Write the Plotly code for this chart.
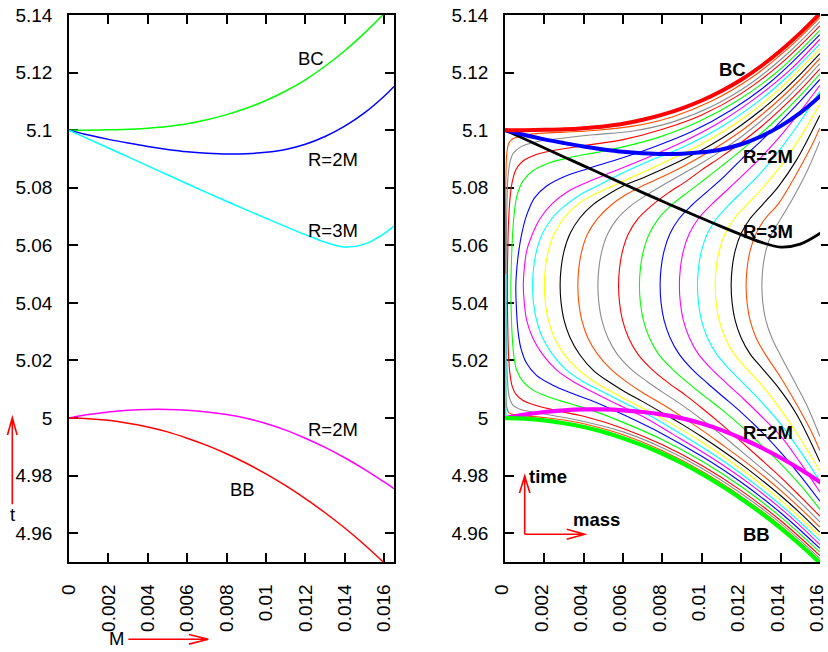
import plotly.graph_objects as go

FIG_W, FIG_H = 828, 652

# ---------------------------------------------------------------- data
# mass coordinate grid for the boundary curves
M_GRID = [0.0, 0.001, 0.002, 0.003, 0.004, 0.005, 0.006, 0.007, 0.008,
          0.009, 0.010, 0.011, 0.012, 0.013, 0.014, 0.015, 0.016, 0.0165]
# Big Crunch
BC_T = [5.1, 5.1000, 5.1001, 5.1003, 5.1007, 5.1013, 5.1022, 5.1036, 5.1054,
        5.1076, 5.1103, 5.1136, 5.1175, 5.1222, 5.1276, 5.1337, 5.1405, 5.1442]
# R = 2M, upper branch
R2M_UP_T = [5.1, 5.0983, 5.0968, 5.0955, 5.0943, 5.0933, 5.0925, 5.0920, 5.0917,
            5.0918, 5.0923, 5.0933, 5.0951, 5.0978, 5.1014, 5.1060, 5.1118, 5.1152]
# R = 3M
R3M_T = [5.1, 5.0969, 5.0938, 5.0907, 5.0876, 5.0845, 5.0814, 5.0783, 5.0753,
         5.0723, 5.0694, 5.0665, 5.0637, 5.0611, 5.0594, 5.0604, 5.0641, 5.0667]
# R = 2M, lower branch
R2M_LO_T = [5.0, 5.0012, 5.0021, 5.0027, 5.0030, 5.0030, 5.0027, 5.0021, 5.0012,
            4.9999, 4.9981, 4.9958, 4.9930, 4.9898, 4.9862, 4.9822, 4.9778, 4.9755]
# Big Bang
BB_T = [5.0, 4.9998, 4.9992, 4.9982, 4.9969, 4.9952, 4.9930, 4.9905, 4.9876,
        4.9843, 4.9806, 4.9765, 4.9720, 4.9671, 4.9618, 4.9560, 4.9497, 4.9464]

# family of constant-R curves, each running lower arm -> turning point -> upper arm
R01_M = [0.016, 0.014, 0.012, 0.010, 0.008, 0.006, 0.004, 0.003, 0.002, 0.001,
         0.0005, 0.0002, 0.0001, 0.00005, 0.00003, 0.00002, 0.00003, 0.00005, 0.0001, 0.0002,
         0.0004, 0.0008, 0.0016, 0.003, 0.0045, 0.0065, 0.0085, 0.0105, 0.0125, 0.0145, 0.016]
R01_T = [4.9504, 4.9626, 4.9728, 4.9815, 4.9886, 4.9942, 4.9980, 4.9993, 5.0002, 5.0007,
         5.0011, 5.0018, 5.0035, 5.0080, 5.0200, 5.0460, 5.0700, 5.0850, 5.0925, 5.0955,
         5.0970, 5.0980, 5.0988, 5.0993, 5.0999, 5.1014, 5.1046, 5.1101, 5.1181, 5.1291, 5.1391]
R02_M = [0.016, 0.014, 0.012, 0.010, 0.008, 0.006, 0.004, 0.0025, 0.0015, 0.0008,
         0.0004, 0.00024, 0.00015, 0.0001, 0.00007, 0.00006, 0.00007, 0.0001, 0.00015, 0.00024,
         0.0004, 0.0008, 0.0015, 0.0028, 0.0045, 0.0065, 0.0085, 0.0105, 0.0125, 0.0145, 0.016]
R02_T = [4.9512, 4.9635, 4.9738, 4.9826, 4.9897, 4.9952, 4.9988, 5.0008, 5.0020, 5.0030,
         5.0045, 5.0068, 5.0105, 5.0180, 5.0300, 5.0460, 5.0620, 5.0750, 5.0835, 5.0885,
         5.0918, 5.0942, 5.0958, 5.0971, 5.0984, 5.0997, 5.1028, 5.1082, 5.1163, 5.1275, 5.1377]
R03_M = [0.016, 0.014, 0.012, 0.010, 0.008, 0.006, 0.004, 0.0025, 0.0015, 0.0009,
         0.00055, 0.00036, 0.00025, 0.00018, 0.00014, 0.00012, 0.00014, 0.00018, 0.00025, 0.00036,
         0.00055, 0.0009, 0.0015, 0.0025, 0.004, 0.006, 0.008, 0.010, 0.012, 0.014, 0.016]
R03_T = [4.9522, 4.9644, 4.9748, 4.9835, 4.9907, 4.9964, 5.0006, 5.0028, 5.0045, 5.0062,
         5.0083, 5.0112, 5.0155, 5.0220, 5.0320, 5.0460, 5.0580, 5.0680, 5.0760, 5.0818,
         5.0862, 5.0892, 5.0913, 5.0930, 5.0946, 5.0967, 5.1003, 5.1053, 5.1127, 5.1230, 5.1362]
R04_M = [0.016, 0.014, 0.012, 0.010, 0.008, 0.006, 0.0045, 0.0032, 0.0022, 0.0014,
         0.0009, 0.0006, 0.00046, 0.00037, 0.00032, 0.0003, 0.00033, 0.00038, 0.00046, 0.0006,
         0.0009, 0.0014, 0.0022, 0.0033, 0.0046, 0.006, 0.0078, 0.0098, 0.0118, 0.0138, 0.016]
R04_T = [4.9534, 4.9657, 4.9762, 4.9851, 4.9925, 4.9985, 5.0025, 5.0052, 5.0074, 5.0098,
         5.0128, 5.0165, 5.0210, 5.0280, 5.0360, 5.0460, 5.0550, 5.0630, 5.0705, 5.0770,
         5.0822, 5.0858, 5.0885, 5.0905, 5.0922, 5.0942, 5.0975, 5.1028, 5.1102, 5.1201, 5.1347]
R05_M = [0.016, 0.014, 0.012, 0.010, 0.008, 0.006, 0.0046, 0.0034, 0.0024, 0.0016,
         0.0011, 0.0008, 0.00065, 0.00058, 0.00055, 0.0006, 0.0007, 0.00085, 0.0011, 0.0015,
         0.0021, 0.003, 0.0042, 0.0057, 0.0075, 0.0095, 0.0115, 0.0135, 0.016]
R05_T = [4.9547, 4.9671, 4.9777, 4.9867, 4.9945, 5.0012, 5.0055, 5.0086, 5.0115, 5.0148,
         5.0190, 5.0245, 5.0310, 5.0380, 5.0460, 5.0520, 5.0580, 5.0640, 5.0705, 5.0765,
         5.0805, 5.0838, 5.0866, 5.0898, 5.0940, 5.0995, 5.1070, 5.1168, 5.1332]
R06_M = [0.016, 0.0145, 0.0125, 0.0105, 0.0085, 0.007, 0.0057, 0.0045, 0.0035, 0.0026,
         0.0019, 0.0014, 0.0011, 0.00098, 0.00093, 0.00098, 0.0011, 0.0014, 0.0018, 0.0024,
         0.0032, 0.0042, 0.0055, 0.007, 0.009, 0.011, 0.013, 0.0145, 0.016]
R06_T = [4.9560, 4.9657, 4.9768, 4.9862, 4.9945, 5.0005, 5.0048, 5.0089, 5.0125, 5.0168,
         5.0222, 5.0280, 5.0340, 5.0400, 5.0460, 5.0520, 5.0580, 5.0640, 5.0695, 5.0745,
         5.0787, 5.0820, 5.0856, 5.0898, 5.0958, 5.1031, 5.1125, 5.1210, 5.1316]
R07_M = [0.016, 0.0145, 0.013, 0.011, 0.009, 0.0075, 0.006, 0.005, 0.004, 0.0031,
         0.0024, 0.0019, 0.0016, 0.00145, 0.0014, 0.00145, 0.0016, 0.0019, 0.0024, 0.003,
         0.0038, 0.0048, 0.006, 0.0075, 0.009, 0.011, 0.013, 0.0145, 0.016]
R07_T = [4.9574, 4.9669, 4.9754, 4.9855, 4.9942, 5.0003, 5.0055, 5.0090, 5.0125, 5.0168,
         5.0222, 5.0280, 5.0340, 5.0400, 5.0460, 5.0520, 5.0580, 5.0640, 5.0695, 5.0735,
         5.0775, 5.0810, 5.0852, 5.0898, 5.0940, 5.1012, 5.1107, 5.1196, 5.1300]
R08_M = [0.016, 0.014, 0.012, 0.010, 0.008, 0.0065, 0.0055, 0.0045, 0.0037, 0.003,
         0.0025, 0.0022, 0.00205, 0.002, 0.00205, 0.0022, 0.0025, 0.003, 0.0037, 0.0045,
         0.0055, 0.0065, 0.008, 0.010, 0.012, 0.014, 0.016]
R08_T = [4.9589, 4.9715, 4.9823, 4.9917, 4.9998, 5.0052, 5.0088, 5.0128, 5.0170, 5.0222,
         5.0280, 5.0340, 5.0400, 5.0460, 5.0520, 5.0580, 5.0640, 5.0695, 5.0743, 5.0776,
         5.0807, 5.0838, 5.0885, 5.0952, 5.1036, 5.1146, 5.1283]
R09_M = [0.016, 0.015, 0.014, 0.013, 0.012, 0.011, 0.010, 0.009, 0.008, 0.007,
         0.006, 0.0053, 0.0045, 0.0038, 0.0033, 0.003, 0.00285, 0.0028, 0.00285, 0.003,
         0.0033, 0.0038, 0.0045, 0.0052, 0.006, 0.007, 0.008, 0.009, 0.010, 0.011,
         0.012, 0.013, 0.014, 0.015, 0.016]
R09_T = [4.9604, 4.9670, 4.9731, 4.9787, 4.9840, 4.9889, 4.9935, 4.9978, 5.0018, 5.0057,
         5.0095, 5.0125, 5.0165, 5.0220, 5.0280, 5.0340, 5.0400, 5.0460, 5.0520, 5.0580,
         5.0640, 5.0695, 5.0743, 5.0775, 5.0806, 5.0834, 5.0864, 5.0896, 5.0931, 5.0971,
         5.1017, 5.1069, 5.1128, 5.1194, 5.1266]
R10_M = [0.016, 0.015, 0.014, 0.013, 0.012, 0.011, 0.010, 0.009, 0.008, 0.007,
         0.0062, 0.0054, 0.0047, 0.0042, 0.0039, 0.00375, 0.0037, 0.00375, 0.0039, 0.0042,
         0.0047, 0.0054, 0.0062, 0.007, 0.008, 0.009, 0.010, 0.011, 0.012, 0.013,
         0.014, 0.015, 0.016]
R10_T = [4.9621, 4.9687, 4.9749, 4.9806, 4.9859, 4.9909, 4.9958, 5.0004, 5.0048, 5.0088,
         5.0125, 5.0168, 5.0222, 5.0280, 5.0340, 5.0400, 5.0460, 5.0520, 5.0580, 5.0640,
         5.0693, 5.0740, 5.0778, 5.0807, 5.0838, 5.0872, 5.0910, 5.0951, 5.0997, 5.1051,
         5.1110, 5.1176, 5.1249]
R11_M = [0.016, 0.015, 0.014, 0.013, 0.012, 0.011, 0.010, 0.009, 0.008, 0.0072,
         0.0064, 0.0057, 0.00522, 0.00492, 0.00477, 0.00472, 0.00477, 0.00492, 0.00522, 0.0057,
         0.0064, 0.0072, 0.008, 0.009, 0.010, 0.011, 0.012, 0.013, 0.014, 0.015, 0.016]
R11_T = [4.9639, 4.9707, 4.9770, 4.9828, 4.9885, 4.9942, 4.9995, 5.0045, 5.0090, 5.0128,
         5.0170, 5.0222, 5.0280, 5.0340, 5.0400, 5.0460, 5.0520, 5.0580, 5.0640, 5.0692,
         5.0738, 5.0775, 5.0808, 5.0847, 5.0886, 5.0929, 5.0977, 5.1031, 5.1091, 5.1158, 5.1231]
R12_M = [0.016, 0.015, 0.014, 0.013, 0.012, 0.011, 0.010, 0.0092, 0.0083, 0.00745,
         0.00675, 0.00627, 0.00597, 0.00582, 0.00577, 0.00582, 0.00597, 0.00627, 0.00675, 0.00745,
         0.0083, 0.0092, 0.010, 0.011, 0.012, 0.013, 0.014, 0.015, 0.016]
R12_T = [4.9659, 4.9728, 4.9795, 4.9857, 4.9918, 4.9978, 5.0035, 5.0078, 5.0122, 5.0170,
         5.0222, 5.0280, 5.0340, 5.0400, 5.0460, 5.0520, 5.0580, 5.0640, 5.0692, 5.0738,
         5.0782, 5.0822, 5.0862, 5.0908, 5.0957, 5.1011, 5.1072, 5.1139, 5.1213]
R13_M = [0.016, 0.015, 0.014, 0.013, 0.012, 0.011, 0.0101, 0.0093, 0.0085, 0.0078,
         0.00733, 0.00703, 0.00688, 0.00683, 0.00688, 0.00703, 0.00733, 0.0078, 0.0085, 0.0093,
         0.0102, 0.011, 0.012, 0.013, 0.014, 0.015, 0.016]
R13_T = [4.9683, 4.9768, 4.9842, 4.9908, 4.9972, 5.0030, 5.0078, 5.0122, 5.0170, 5.0222,
         5.0280, 5.0340, 5.0400, 5.0460, 5.0520, 5.0580, 5.0640, 5.0693, 5.0742, 5.0785,
         5.0832, 5.0875, 5.0930, 5.0988, 5.1051, 5.1120, 5.1195]
R14_M = [0.016, 0.015, 0.014, 0.013, 0.012, 0.0111, 0.0103, 0.0095, 0.00885, 0.00838,
         0.00808, 0.00793, 0.00788, 0.00793, 0.00808, 0.00838, 0.00885, 0.0095, 0.0103, 0.0112,
         0.012, 0.013, 0.014, 0.015, 0.016]
R14_T = [4.9711, 4.9800, 4.9882, 4.9955, 5.0020, 5.0073, 5.0120, 5.0170, 5.0222, 5.0280,
         5.0340, 5.0400, 5.0460, 5.0520, 5.0580, 5.0640, 5.0693, 5.0740, 5.0788, 5.0843,
         5.0898, 5.0962, 5.1030, 5.1101, 5.1176]
R15_M = [0.016, 0.015, 0.014, 0.013, 0.0121, 0.0113, 0.0105, 0.00983, 0.00936, 0.00906,
         0.00891, 0.00886, 0.00891, 0.00906, 0.00936, 0.00983, 0.0105, 0.0113, 0.0121, 0.013,
         0.014, 0.015, 0.016]
R15_T = [4.9743, 4.9845, 4.9938, 5.0008, 5.0068, 5.0118, 5.0170, 5.0222, 5.0280, 5.0340,
         5.0400, 5.0460, 5.0520, 5.0580, 5.0640, 5.0693, 5.0742, 5.0793, 5.0845, 5.0905,
         5.0980, 5.1065, 5.1156]
R16_M = [0.016, 0.015, 0.014, 0.013, 0.0122, 0.0114, 0.01075, 0.01028, 0.00998, 0.00983,
         0.00978, 0.00983, 0.00998, 0.01028, 0.01075, 0.0114, 0.0122, 0.013, 0.014, 0.015, 0.016]
R16_T = [4.9780, 4.9885, 4.9980, 5.0058, 5.0115, 5.0170, 5.0222, 5.0280, 5.0340, 5.0400,
         5.0460, 5.0520, 5.0580, 5.0640, 5.0693, 5.0742, 5.0796, 5.0852, 5.0935, 5.1030, 5.1135]
R17_M = [0.016, 0.015, 0.014, 0.0131, 0.0123, 0.01165, 0.01118, 0.01088, 0.01073, 0.01068,
         0.01073, 0.01088, 0.01118, 0.01165, 0.0123, 0.0131, 0.014, 0.015, 0.016]
R17_T = [4.9815, 4.9928, 5.0030, 5.0110, 5.0170, 5.0222, 5.0280, 5.0340, 5.0400, 5.0460,
         5.0520, 5.0580, 5.0640, 5.0693, 5.0742, 5.0800, 5.0875, 5.0975, 5.1090]
R18_M = [0.016, 0.0148, 0.0139, 0.0131, 0.01246, 0.01199, 0.01169, 0.01154, 0.01149,
         0.01154, 0.01169, 0.01199, 0.01246, 0.0131, 0.0139, 0.0148, 0.016]
R18_T = [4.9848, 5.0015, 5.0105, 5.0170, 5.0222, 5.0280, 5.0340, 5.0400, 5.0460,
         5.0520, 5.0580, 5.0640, 5.0693, 5.0742, 5.0805, 5.0895, 5.1052]
R19_M = [0.016, 0.0155, 0.0148, 0.014, 0.01322, 0.01275, 0.01245, 0.0123, 0.01225,
         0.0123, 0.01245, 0.01275, 0.01322, 0.0139, 0.0147, 0.0155, 0.016]
R19_T = [4.9887, 4.9962, 5.0050, 5.0142, 5.0222, 5.0280, 5.0340, 5.0400, 5.0460,
         5.0520, 5.0580, 5.0640, 5.0693, 5.0745, 5.0835, 5.0935, 5.1008]
R20_M = [0.016, 0.0154, 0.0148, 0.01402, 0.01355, 0.01325, 0.0131, 0.01305,
         0.0131, 0.01325, 0.01355, 0.01402, 0.0147, 0.0154, 0.016]
R20_T = [4.9936, 5.0035, 5.0115, 5.0215, 5.0280, 5.0340, 5.0400, 5.0460,
         5.0520, 5.0580, 5.0640, 5.0693, 5.0772, 5.0865, 5.0962]

# short segment lying on the central worldline M = 0
CENTRE_M = [0.0, 0.0]
CENTRE_T = [5.0, 5.05]

# tick marks and their labels
M_TICKS = [0.0, 0.002, 0.004, 0.006, 0.008, 0.010, 0.012, 0.014, 0.016]
M_TICK_LABELS = ["0", "0.002", "0.004", "0.006", "0.008", "0.01", "0.012", "0.014", "0.016"]
T_TICKS = [4.96, 4.98, 5.00, 5.02, 5.04, 5.06, 5.08, 5.10, 5.12, 5.14]
T_TICK_LABELS = ["4.96", "4.98", "5", "5.02", "5.04", "5.06", "5.08", "5.1", "5.12", "5.14"]

# ---------------------------------------------------------------- styling
RED, GREEN, BLUE = "#ff0000", "#00ff00", "#0000ff"
MAGENTA, CYAN, YELLOW = "#ff00ff", "#00ffff", "#ffff00"
BLACK, ORANGE, GREY = "#000000", "#ff4d00", "#8c8c8c"
CYCLE = [RED, GREEN, BLUE, MAGENTA, CYAN, YELLOW, BLACK, ORANGE, GREY]

FAMILY = [
    (R01_M, R01_T), (R02_M, R02_T), (R03_M, R03_T), (R04_M, R04_T), (R05_M, R05_T),
    (R06_M, R06_T), (R07_M, R07_T), (R08_M, R08_T), (R09_M, R09_T), (R10_M, R10_T),
    (R11_M, R11_T), (R12_M, R12_T), (R13_M, R13_T), (R14_M, R14_T), (R15_M, R15_T),
    (R16_M, R16_T), (R17_M, R17_T), (R18_M, R18_T), (R19_M, R19_T), (R20_M, R20_T),
]
FONT = "Liberation Sans, Arial, Helvetica, sans-serif"
T_RANGE = [4.95, 5.14]


def px_x(p):
    return p / FIG_W


def px_y(p):
    return 1 - p / FIG_H


fig = go.Figure()


def curve(x, y, color, width, xa, ya, clip=True):
    fig.add_trace(go.Scatter(
        x=x, y=y, mode="lines", xaxis=xa, yaxis=ya, hoverinfo="skip",
        cliponaxis=clip,
        line=dict(color=color, width=width, shape="spline", smoothing=1.0),
    ))


# left panel: boundaries and horizons
curve(M_GRID, BC_T, GREEN, 1.5, "x", "y")
curve(M_GRID, R2M_UP_T, BLUE, 1.5, "x", "y")
curve(M_GRID, R3M_T, CYAN, 1.5, "x", "y")
curve(M_GRID, R2M_LO_T, MAGENTA, 1.5, "x", "y")
curve(M_GRID, BB_T, RED, 1.5, "x", "y")

# right panel: the family, then the same boundaries drawn heavy on top
for i, (m, t) in enumerate(FAMILY):
    curve(m, t, CYCLE[(i + 7) % len(CYCLE)], 1.1, "x2", "y2")
curve(CENTRE_M, CENTRE_T, CYAN, 3, "x2", "y2", clip=False)
curve(M_GRID, R3M_T, BLACK, 2.8, "x2", "y2")
curve(M_GRID, R2M_UP_T, BLUE, 4, "x2", "y2")
curve(M_GRID, BC_T, RED, 4, "x2", "y2")
curve(M_GRID, R2M_LO_T, MAGENTA, 4.2, "x2", "y2")
curve(M_GRID, BB_T, GREEN, 4.2, "x2", "y2")
# carrier for the outer tick marks on the right edge
fig.add_trace(go.Scatter(x=[0.0], y=[5.0], xaxis="x2", yaxis="y3", mode="lines",
                         hoverinfo="skip", opacity=0))

axis_common = dict(
    ticks="inside", ticklen=9, tickwidth=1.6, tickcolor="black",
    showline=True, linewidth=1.6, linecolor="black",
    showgrid=False, zeroline=False, layer="below traces",
    automargin=False, ticklabeloverflow="allow",
    tickfont=dict(family=FONT, size=19, color="black"),
)
x_common = dict(axis_common, tickvals=M_TICKS, ticktext=M_TICK_LABELS,
                tickangle=-90, ticklabelstandoff=13)
y_common = dict(axis_common, tickvals=T_TICKS, ticktext=T_TICK_LABELS,
                range=T_RANGE, ticklabelstandoff=11)

dom_y = [px_y(562), px_y(15)]
fig.update_layout(
    width=FIG_W, height=FIG_H,
    margin=dict(l=0, r=0, t=0, b=0, pad=0, autoexpand=False),
    paper_bgcolor="white", plot_bgcolor="white",
    showlegend=False, hovermode=False,
    xaxis=dict(x_common, domain=[px_x(69), px_x(394)], range=[0, 0.0165],
               anchor="y", mirror="ticks"),
    yaxis=dict(y_common, domain=dom_y, anchor="x", mirror="ticks"),
    xaxis2=dict(x_common, domain=[px_x(505), px_x(820)], range=[0, 0.016005],
                anchor="y2", mirror="ticks", ticklabelshift=-3),
    yaxis2=dict(y_common, domain=dom_y, anchor="x2", mirror=False),
    yaxis3=dict(axis_common, tickvals=T_TICKS, range=T_RANGE, overlaying="y2",
                anchor="x2", side="right", ticks="outside", ticklen=8,
                showline=False, showticklabels=False),
)


# curve labels
def label(text, x, y, xa, ya, bold=False):
    fig.add_annotation(
        text=f"<b>{text}</b>" if bold else text, x=x, y=y, xref=xa, yref=ya,
        showarrow=False, xanchor="center", yanchor="middle",
        font=dict(family=FONT, size=18.5, color="black"),
    )


label("BC", 0.01227, 5.1250, "x", "y")
label("R=2M", 0.01342, 5.0899, "x", "y")
label("R=3M", 0.01342, 5.0651, "x", "y")
label("R=2M", 0.01342, 4.9960, "x", "y")
label("BB", 0.00879, 4.9752, "x", "y")

label("BC", 0.01155, 5.1211, "x2", "y2", bold=True)
label("R=2M", 0.01338, 5.0910, "x2", "y2", bold=True)
label("R=3M", 0.01338, 5.0649, "x2", "y2", bold=True)
label("R=2M", 0.01338, 4.9950, "x2", "y2", bold=True)
label("BB", 0.01279, 4.9597, "x2", "y2", bold=True)


def paper_text(text, px, py, bold=False):
    fig.add_annotation(
        text=f"<b>{text}</b>" if bold else text, x=px_x(px), y=px_y(py),
        xref="paper", yref="paper", showarrow=False,
        xanchor="center", yanchor="middle",
        font=dict(family=FONT, size=18.5, color="black"),
    )


paper_text("t", 12.3, 514)
paper_text("M", 116, 638)
paper_text("time", 548, 476, bold=True)
paper_text("mass", 596, 519, bold=True)


def arrow(x0, y0, x1, y1, hx0, hy0, hx1, hy1):
    path = (f"M{px_x(x0)},{px_y(y0)} L{px_x(x1)},{px_y(y1)} "
            f"M{px_x(hx0)},{px_y(hy0)} L{px_x(x1)},{px_y(y1)} L{px_x(hx1)},{px_y(hy1)}")
    fig.add_shape(type="path", path=path, xref="paper", yref="paper",
                  line=dict(color=RED, width=1.6))


arrow(12.3, 504.3, 12.3, 417.7, 7.5, 435.0, 17.1, 435.0)
arrow(128.3, 639.3, 208.3, 639.3, 189.0, 634.5, 189.0, 644.1)
arrow(524.7, 534.3, 524.7, 476.0, 519.5, 493.0, 529.9, 493.0)
arrow(524.7, 534.3, 584.7, 534.3, 566.7, 529.3, 566.7, 539.3)

fig.write_html("out.html")
